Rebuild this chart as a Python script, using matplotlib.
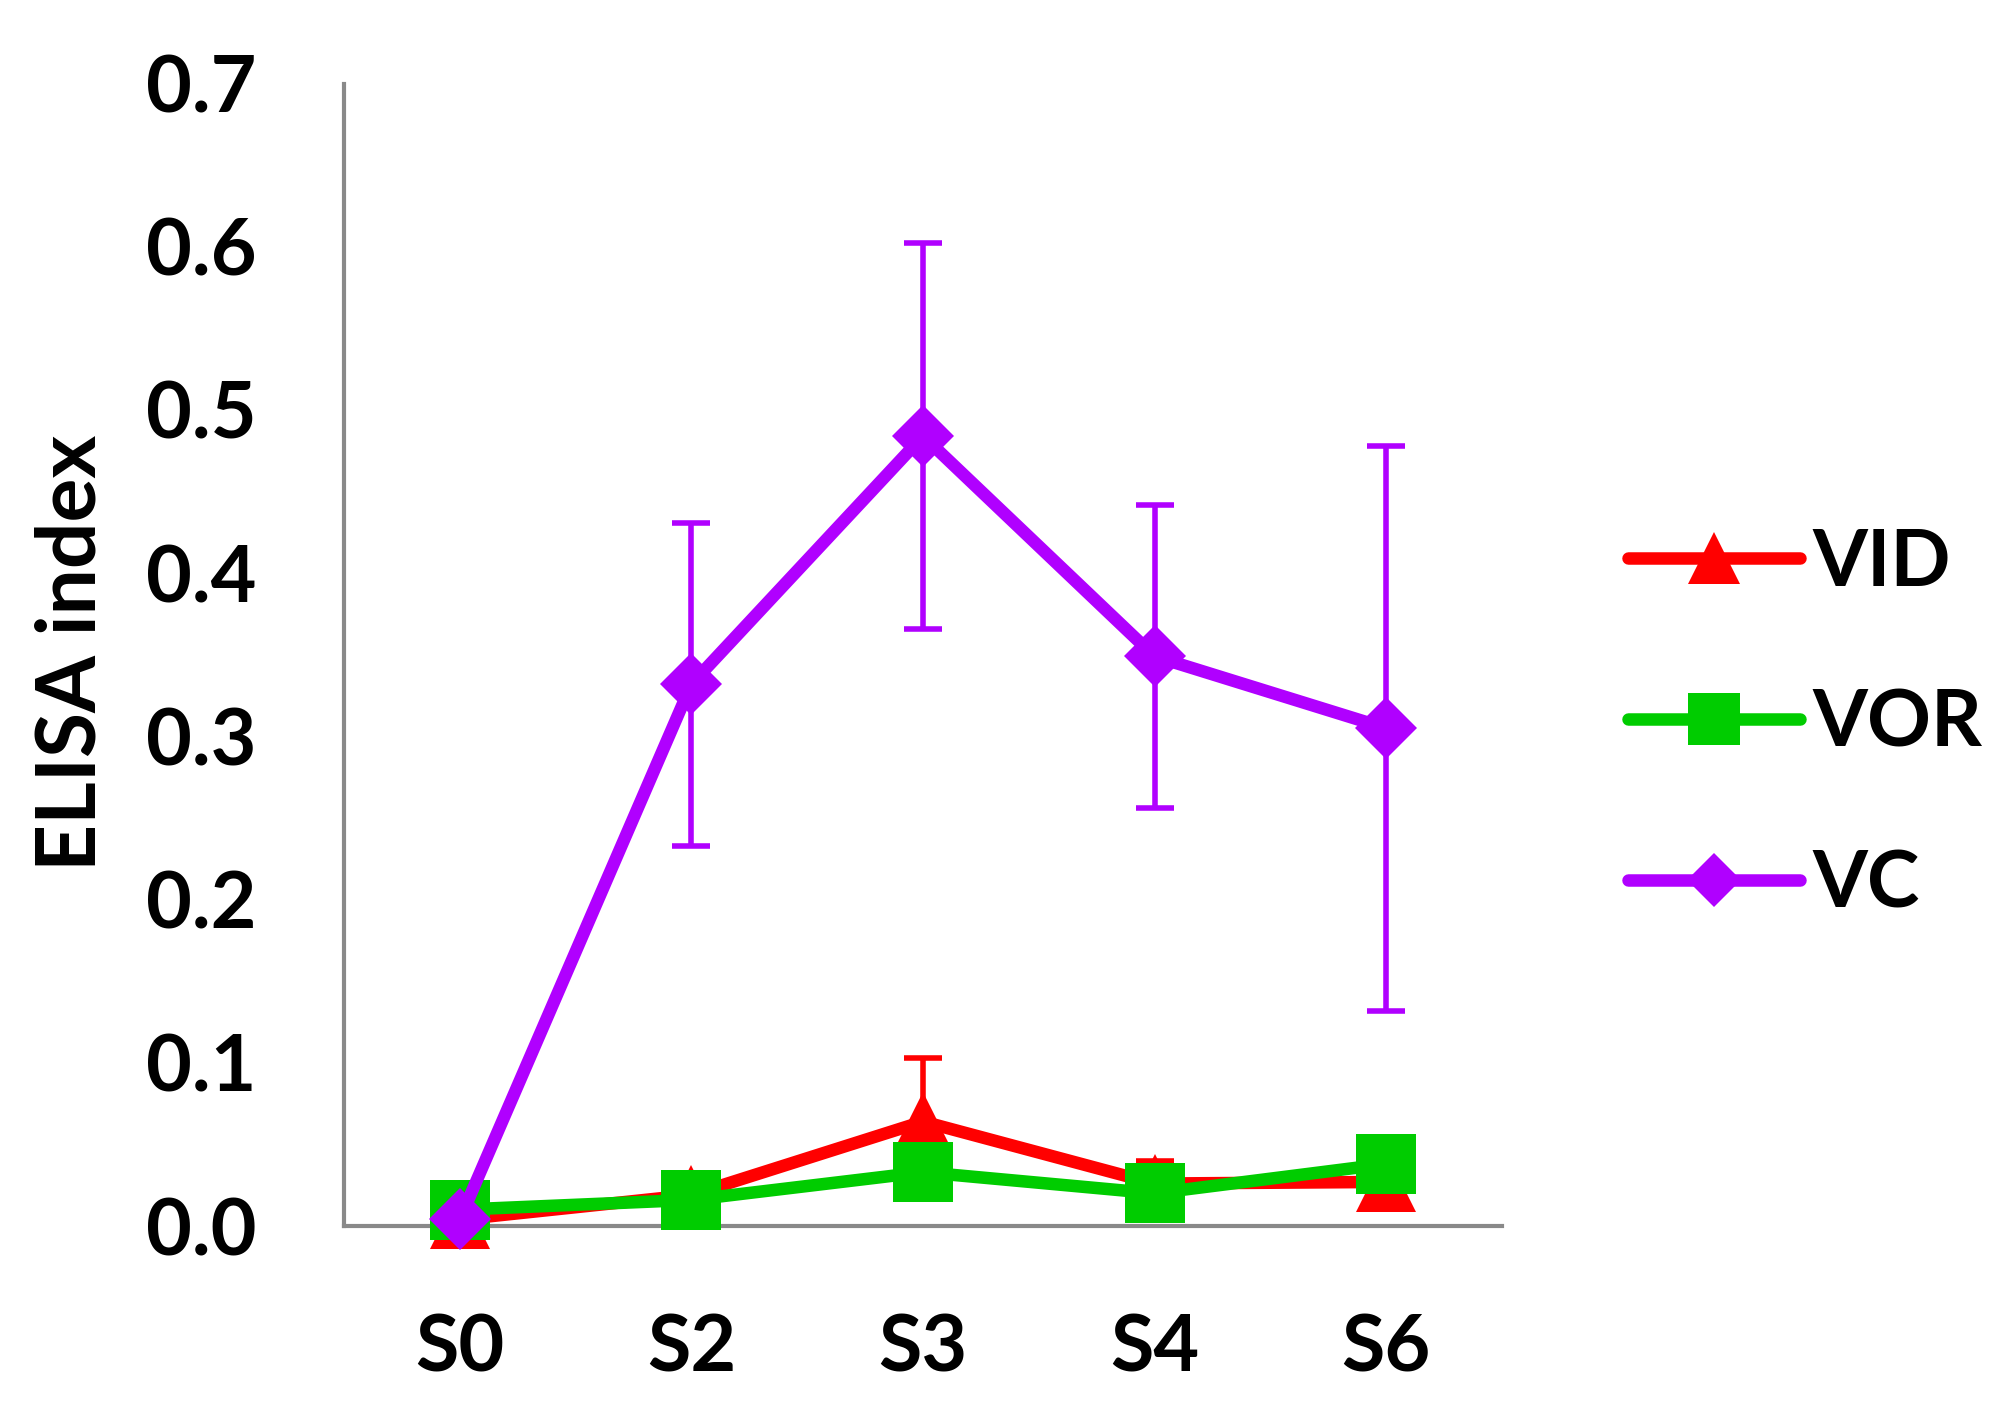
import matplotlib
matplotlib.use("Agg")
import matplotlib.pyplot as plt
import numpy as np

# ---- data ----
categories = ["S0", "S2", "S3", "S4", "S6"]
vid = [0.004, 0.019, 0.064, 0.026, 0.027]
vid_err = [0.004, 0.005, 0.039, 0.014, 0.005]
vor = [0.010, 0.016, 0.033, 0.020, 0.038]
vor_err = [0.003, 0.003, 0.005, 0.003, 0.005]
vc = [0.004, 0.332, 0.484, 0.349, 0.305]
vc_err = [0.0, 0.099, 0.118, 0.093, 0.173]
series_names = ["VID", "VOR", "VC"]
yticks = [0.0, 0.1, 0.2, 0.3, 0.4, 0.5, 0.6, 0.7]

FONT = ["Lato", "DejaVu Sans"]
plt.rcParams['font.family'] = FONT
plt.rcParams['font.weight'] = 'bold'
FS = 57

fig = plt.figure(figsize=(20.13, 14.20), dpi=100)
ax = fig.add_axes([344/2013, 1-1226/1420, (1502-344)/2013, (1226-83.5)/1420])

x = np.arange(len(categories))
colors = ["#FF0000", "#00CC00", "#B000FF"]
markers = ["^", "s", "D"]
msizes = [43, 43, 31.6]
data = [vid, vor, vc]
errs = [vid_err, vor_err, vc_err]

for i, (y, e, c, m, ms, name) in enumerate(zip(data, errs, colors, markers, msizes, series_names)):
    z = 3 + i
    ax.errorbar(x, y, yerr=e, fmt='none', ecolor=c, elinewidth=4, capsize=14,
                capthick=4, zorder=z - 0.5)
    ax.plot(x, y, color=c, lw=9, marker=m, markersize=ms, markeredgewidth=0,
            solid_capstyle='round', solid_joinstyle='round', label=name, zorder=z, clip_on=False)

ax.set_xlim(-0.5, 4.5)
ax.set_ylim(0, 0.7)
ax.set_xticks(x)
ax.set_xticklabels(categories)
ax.set_yticks(yticks)
ax.set_yticklabels([f"{v:.1f}" for v in yticks])
ax.tick_params(axis='both', length=0, labelsize=FS, pad=63)
for lab in ax.get_xticklabels() + ax.get_yticklabels():
    lab.set_fontweight('bold')

for s in ["top", "right"]:
    ax.spines[s].set_visible(False)
for s in ["left", "bottom"]:
    ax.spines[s].set_color("#898989")
    ax.spines[s].set_linewidth(3)

fig.text(72/2013, 1-652.5/1420, "ELISA index", rotation=90, ha='center', va='center',
         fontsize=59, fontweight='bold')

leg = ax.legend(loc='upper left', bbox_to_anchor=(1628/2013, 1-528/1420),
                bbox_transform=fig.transFigure, frameon=False, fontsize=FS,
                borderpad=0, borderaxespad=0, handlelength=2.17, handletextpad=0.16,
                labelspacing=1.12, markerscale=0.86, prop={'weight': 'bold', 'size': FS})

fig.savefig("out.png", dpi=100)
